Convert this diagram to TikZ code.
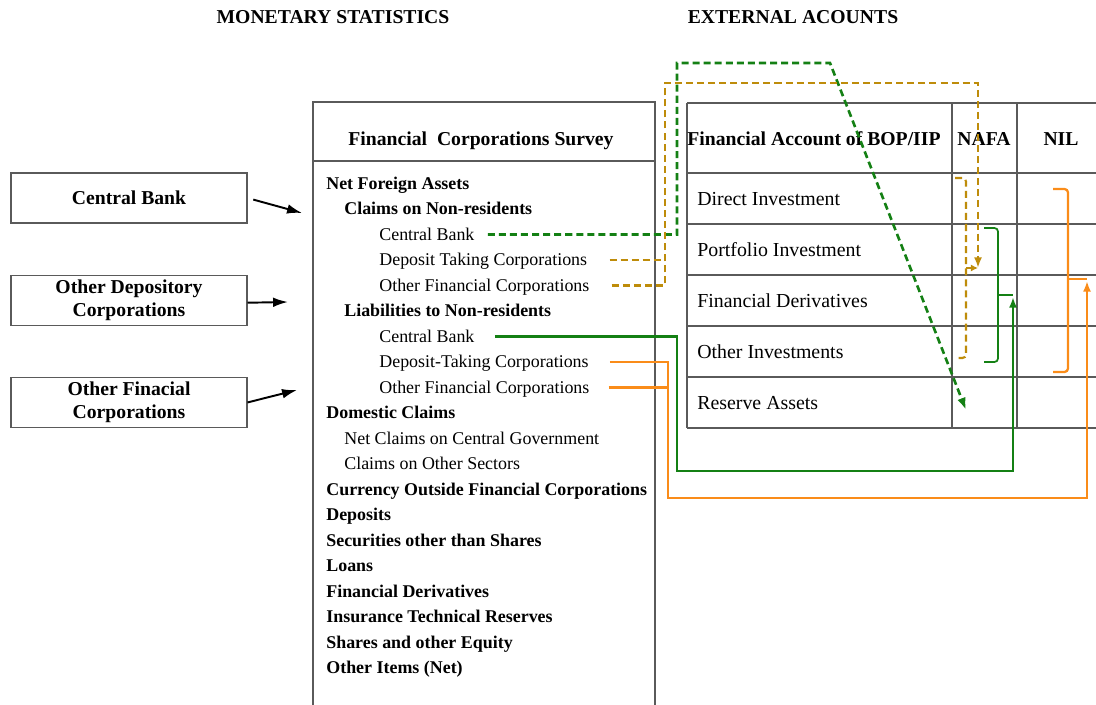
\documentclass[tikz,border=0pt]{standalone}
\usepackage{fontspec}
\setmainfont{Liberation Serif}
\usetikzlibrary{positioning,arrows.meta}

\definecolor{fcsgreen}{RGB}{20,128,20}
\definecolor{fcsgold}{RGB}{190,140,10}
\definecolor{fcsorange}{RGB}{250,140,25}
\definecolor{gridgray}{RGB}{90,90,90}

\begin{document}
\begin{tikzpicture}[x=0.02cm, y=-0.02cm, node distance=2.045cm, on grid,
    title/.style={font=\fontsize{11.2}{13}\selectfont\bfseries},
    srcbox/.style={draw=gridgray, line width=0.6pt, minimum width=4.72cm, minimum height=1cm,
        align=center, inner sep=0pt, font=\fontsize{11.2}{13.1}\selectfont\bfseries},
    fbold/.style={anchor=base west, inner sep=0pt, text height=6.8pt, text depth=0pt,
        font=\fontsize{10.2}{12}\selectfont\bfseries},
    fplain/.style={fbold, font=\fontsize{10.2}{12}\selectfont},
    cell/.style={anchor=base west, inner sep=0pt, font=\fontsize{11.3}{13}\selectfont},
    gridline/.style={draw=gridgray, line width=0.6pt},
    feed/.style={-{Latex[length=8.5pt,width=5.5pt]}, line width=1.1pt, black},
    link/.style={line width=1.5pt},
    dashlink/.style={link, dash pattern=on 4pt off 2.3pt},
    bracket/.style={line width=1pt, rounded corners=2pt}]
\useasboundingbox (0,0) rectangle (1096,705);

% headings
\node[title] (monTitle) at (333,17) {MONETARY STATISTICS};
\node[title] (extTitle) at (793,17) {EXTERNAL ACOUNTS};

% sectors
\node[srcbox] (cbBox) at (129,198) {Central Bank};
\node[srcbox, below=of cbBox] (odcBox) {Other Depository\\Corporations};
\node[srcbox, below=of odcBox] (ofcBox) {Other Finacial\\Corporations};

\coordinate (cbIn) at (302,213);
\coordinate (odcIn) at (288,302);
\coordinate (ofcIn) at (297,390);
\draw[feed, shorten <=0.12cm] (cbBox.east) -- (cbIn);
\draw[feed] ([yshift=-0.05cm]odcBox.east) -- (odcIn);
\draw[feed] (ofcBox.east) -- (ofcIn);

% survey
\draw[gridline] (313,705) -- (313,102) -- (655,102) -- (655,705);
\draw[gridline] (313,161) -- (655,161);
\node[title, anchor=base] (fcsHead) at (481,146) {Financial\ \ Corporations Survey};

\foreach \x/\s/\t [count=\i] in {
    326/fbold/Net Foreign Assets,
    344/fbold/Claims on Non-residents,
    379/fplain/Central Bank,
    379/fplain/Deposit Taking Corporations,
    379/fplain/Other Financial Corporations,
    344/fbold/Liabilities to Non-residents,
    379/fplain/Central Bank,
    379/fplain/Deposit-Taking Corporations,
    379/fplain/Other Financial Corporations,
    326/fbold/Domestic Claims,
    344/fplain/Net Claims on Central Government,
    344/fplain/Claims on Other Sectors,
    326/fbold/Currency Outside Financial Corporations,
    326/fbold/Deposits,
    326/fbold/Securities other than Shares,
    326/fbold/Loans,
    326/fbold/Financial Derivatives,
    326/fbold/Insurance Technical Reserves,
    326/fbold/Shares and other Equity,
    326/fbold/Other Items (Net)}
  \node[\s] (fcs\i) at (\x, {189.5+25.5*(\i-1)}) {\t};

% financial account table
\foreach \y in {103,173,224,275,326,377,428}
  \draw[gridline] (687,\y) -- (1096,\y);
\foreach \x in {687,952,1017}
  \draw[gridline] (\x,103) -- (\x,428);
\node[title, anchor=base] (bopHead) at (814,146) {Financial Account of BOP/IIP};
\node[title, anchor=base] (nafaHead) at (984,146) {NAFA};
\node[title, anchor=base] (nilHead) at (1061,146) {NIL};
\foreach \t [count=\i] in {Direct Investment, Portfolio Investment,
    Financial Derivatives, Other Investments, Reserve Assets}
  \node[cell] (row\i) at (697, {205.5+51*(\i-1)}) {\t};

% bend points and targets
\coordinate (gdnUp) at (677,63);
\coordinate (gdnTurn) at (830,63);
\coordinate (resNafa) at (966,410);
\coordinate (goldUp) at (665,83);
\coordinate (goldTip) at (978,268);
\coordinate (grnLow) at (677,471);
\coordinate (grnTip) at (1013,297);
\coordinate (orgLow) at (668,498);
\coordinate (orgTip) at (1087,281);

% claims on non-residents
\draw[dashlink, fcsgreen, -{Latex[length=7pt,width=5pt]}, shorten <=0.26cm]
  (fcs3.east) -| (gdnUp) -- (gdnTurn) -- (resNafa);
\draw[dashlink, fcsgold, shorten <=0.44cm] (fcs4.east) -- (fcs4.east -| goldUp);
\draw[dashlink, fcsgold, -{Latex[length=6pt,width=4.5pt]}, shorten <=0.44cm]
  (fcs5.east) -| (goldUp) -| (goldTip);
\draw[bracket, dashlink, fcsgold, line width=1.2pt]
  (955,178) -- (966,178) -- (966,358) -- (955,358);
\draw[fcsgold, line width=1.2pt, -{Latex[length=4pt,width=4pt]}] (966,268) -- (goldTip);

% liabilities to non-residents
\draw[link, fcsgreen, -{Latex[length=6pt,width=4.5pt]}, shorten <=0.4cm]
  (fcs7.east) -| (grnLow) -| (grnTip);
\draw[bracket, fcsgreen] (984,228) -- (998,228) -- (998,362) -- (984,362);
\draw[fcsgreen, line width=1pt] (998,295) -- (1013,295);

\draw[link, fcsorange, shorten <=0.38cm] (fcs9.east) -- (fcs9.east -| orgLow);
\draw[link, fcsorange, -{Latex[length=6pt,width=4.5pt]}, shorten <=0.42cm]
  (fcs8.east) -| (orgLow) -| (orgTip);
\draw[bracket, fcsorange, line width=1.3pt] (1053,189) -- (1068,189) -- (1068,372) -- (1053,372);
\draw[fcsorange, line width=1.3pt] (1068,279) -- (1087,279);
\end{tikzpicture}
\end{document}
